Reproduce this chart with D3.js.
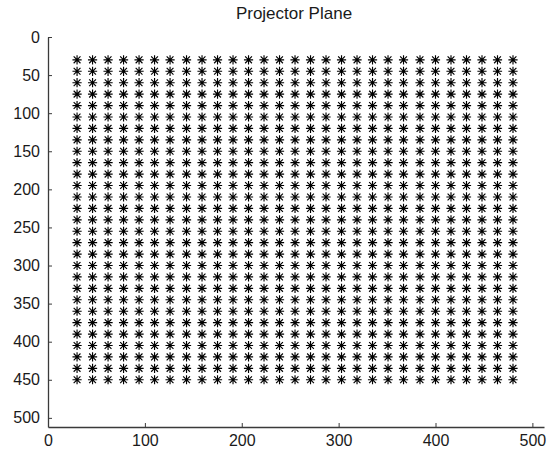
<!DOCTYPE html>
<html>
<head>
<meta charset="utf-8">
<script src="https://cdn.jsdelivr.net/npm/d3@7"></script>
<style>
  html, body { margin: 0; padding: 0; background: #fff; }
  svg { display: block; font-family: "Liberation Sans", Arial, sans-serif; }
</style>
</head>
<body>
<svg id="chart" width="550" height="451"></svg>
<script>
// Projector grid sample points (projector pixel coordinates)
const gridX = [30, 46, 62, 78, 94, 110, 126, 143, 159, 175, 191, 207, 223, 239, 255,
               271, 287, 303, 319, 335, 351, 367, 384, 400, 416, 432, 448, 464, 480];
const gridY = [30, 45, 60, 75, 90, 105, 120, 135, 150, 165, 180, 195, 210, 225, 240,
               255, 270, 285, 300, 315, 330, 345, 360, 375, 390, 405, 420, 435, 450];
const xTicks = [0, 100, 200, 300, 400, 500];
const yTicks = [0, 50, 100, 150, 200, 250, 300, 350, 400, 450, 500];
const xLimits = [0, 512];
const yLimits = [0, 512];
const titleText = "Projector Plane";

const svg = d3.select("#chart");
const plot = { left: 48, right: 544, top: 37, bottom: 427 };

const x = d3.scaleLinear().domain(xLimits).range([plot.left, plot.right]);
// image-style axis: y grows downward
const y = d3.scaleLinear().domain(yLimits).range([plot.top, plot.bottom]);

const axisColor = "#3a3a3a";
const textColor = "#1a1a1a";

// grid points, drawn as asterisk markers
const points = [];
gridY.forEach(py => gridX.forEach(px => points.push({ px, py })));

const r = 4.6, d = 3.4;
const star = `M${-r},0L${r},0M0,${-r}L0,${r}M${-d},${-d}L${d},${d}M${-d},${d}L${d},${-d}`;

svg.append("g")
  .selectAll("path")
  .data(points)
  .join("path")
  .attr("transform", p => `translate(${x(p.px)},${y(p.py)})`)
  .attr("d", star)
  .attr("stroke", "#000")
  .attr("stroke-width", 1.15)
  .attr("fill", "none");

// axes
const xAxis = d3.axisBottom(x).tickValues(xTicks).tickSize(-4).tickPadding(8).tickSizeOuter(0);
const yAxis = d3.axisLeft(y).tickValues(yTicks).tickSize(-4).tickPadding(8).tickSizeOuter(0);

const gx = svg.append("g").attr("transform", `translate(0,${plot.bottom})`).call(xAxis);
const gy = svg.append("g").attr("transform", `translate(${plot.left},0)`).call(yAxis);

[gx, gy].forEach(g => {
  g.select(".domain").attr("stroke", axisColor).attr("stroke-width", 1.3);
  g.selectAll(".tick line").attr("stroke", axisColor);
  g.selectAll(".tick text")
    .attr("fill", textColor)
    .attr("font-size", 16)
    .attr("font-family", "Liberation Sans, Arial, sans-serif");
});

svg.append("text")
  .attr("x", (plot.left + plot.right) / 2 - 2)
  .attr("y", 19)
  .attr("text-anchor", "middle")
  .attr("font-size", 17)
  .attr("fill", textColor)
  .text(titleText);
</script>
</body>
</html>
